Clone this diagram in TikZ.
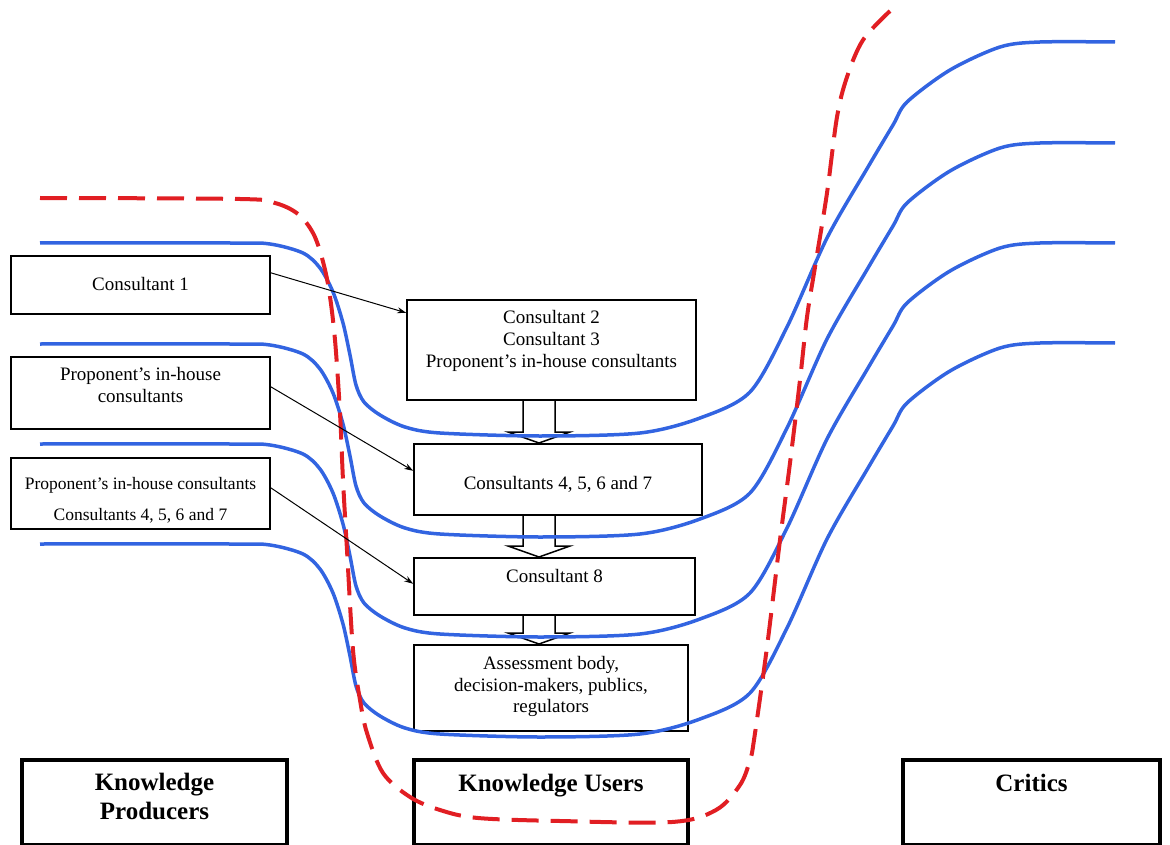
\documentclass[tikz,border=0pt]{standalone}
\usepackage{fontspec}
\setmainfont{Liberation Serif}
\usetikzlibrary{calc,arrows.meta}
\definecolor{curveblue}{RGB}{50,100,225}
\definecolor{dashred}{RGB}{225,30,35}
\newcommand\ml[2]{\vtop{\baselineskip=#1\lineskiplimit=-100pt\halign{\hfil##\hfil\cr#2\crcr}}}
\newcommand\blockarrow[2]{\draw[blockarr] let \p1=(#1.south -| ax), \p2=(#2.north -| ax) in
  (\x1-16pt,\y1) -- (\x1-16pt,\y2+11pt) -- (\x1-31pt,\y2+11pt) -- (\x2,\y2) --
  (\x1+31pt,\y2+11pt) -- (\x1+16pt,\y2+11pt) -- (\x1+16pt,\y1);}
\begin{document}
\begin{tikzpicture}[x=1pt,y=-1pt,
  box/.style={draw, line width=1.6pt, inner sep=0pt, anchor=north, font=\fontsize{19}{22}\selectfont},
  thickbox/.style={draw, line width=3.5pt, inner sep=0pt, anchor=north, font=\fontsize{25}{29}\selectfont\bfseries},
  bluecurve/.style={curveblue, line width=3.5pt},
  reddash/.style={dashred, line width=4pt, dash pattern=on 27pt off 12pt},
  thinarrow/.style={line width=1pt, -{Stealth[length=9pt,width=6pt]}},
  blockarr/.style={draw, line width=1.5pt, line join=miter}]
\useasboundingbox (0,0) rectangle (1170,845);

% boxes
\node[box, minimum width=259pt, text height=35pt, text depth=23pt] (c1) at (140.5,255) {Consultant 1};
\node[box, minimum width=259pt, text height=24pt, text depth=48pt] (p1) at (140.5,356) {\ml{22pt}{Proponent’s in-house\cr consultants}};
\node[box, font=\fontsize{17.5}{20}\selectfont, minimum width=259pt, text height=32pt, text depth=39pt] (p2) at (140.5,457) {\ml{31pt}{Proponent’s in-house consultants\cr Consultants 4, 5, 6 and 7}};
\node[box, minimum width=289pt, text height=24pt, text depth=76pt] (k1) at (551.5,299) {\ml{22pt}{Consultant 2\cr Consultant 3\cr Proponent’s in-house consultants}};
\node[box, minimum width=288pt, text height=46pt, text depth=25pt] (k2) at (558,443) {Consultants 4, 5, 6 and 7};
\node[box, minimum width=281pt, text height=25pt, text depth=32pt] (k3) at (554.5,557) {Consultant 8};
\node[box, minimum width=274pt, text height=25pt, text depth=61pt] (k4) at (551,644) {\ml{21.5pt}{Assessment body,\cr decision-makers, publics,\cr regulators}};
\node[thickbox, minimum width=265pt, text height=31pt, text depth=54pt] (kp) at (154.5,758) {\ml{29pt}{Knowledge\cr Producers}};
\node[thickbox, minimum width=274pt, text height=32pt, text depth=53pt] (ku) at (551,758) {Knowledge Users};
\node[thickbox, minimum width=257pt, text height=32pt, text depth=53pt] (cr) at (1031.5,758) {Critics};

% block arrows
\coordinate (ax) at (539,0);
\blockarrow{k1}{k2}
\blockarrow{k2}{k3}
\blockarrow{k3}{k4}

% blue curves
\foreach \d in {0,101,201,301}{
  \draw[bluecurve, shift={(0,\d)}] plot[smooth, tension=0.5] coordinates {
    (40,243) (230,243) (270,244) (303,253) (320,268) (333,292) (343,323) (350,355)
    (356,385) (364,402) (380,415) (405,427) (440,433) (540,436) (640,433) (700,418)
    (750,392) (787,327) (827,238) (868,167) (893,125) (907,102) (950,70) (1000,47)
    (1040,42) (1115,42)};
}

% red dashed boundary
\draw[reddash] plot[smooth, tension=0.55] coordinates {
  (40,198) (240,199) (275,203) (298,214) (313,233) (322,258) (329,290) (335,340)
  (340,413) (343,480) (347,550) (353,650) (360,700) (367,733) (383,773) (410,797)
  (440,810) (478,818) (560,821) (672,822) (716,810) (740,785) (750,760) (754,740)
  (767,647) (780,540) (790,463) (800,380) (807,317) (815,267) (827,193) (837,117)
  (847,77) (863,40) (890,11)};

% thin arrows
\draw[thinarrow] ([yshift=12pt]c1.east) -- ([yshift=37pt]k1.west);
\draw[thinarrow] ([yshift=6pt]p1.east) -- ([yshift=8.5pt]k2.west);
\draw[thinarrow] ([yshift=5.5pt]p2.east) -- ([yshift=2.5pt]k3.west);
\end{tikzpicture}
\end{document}
